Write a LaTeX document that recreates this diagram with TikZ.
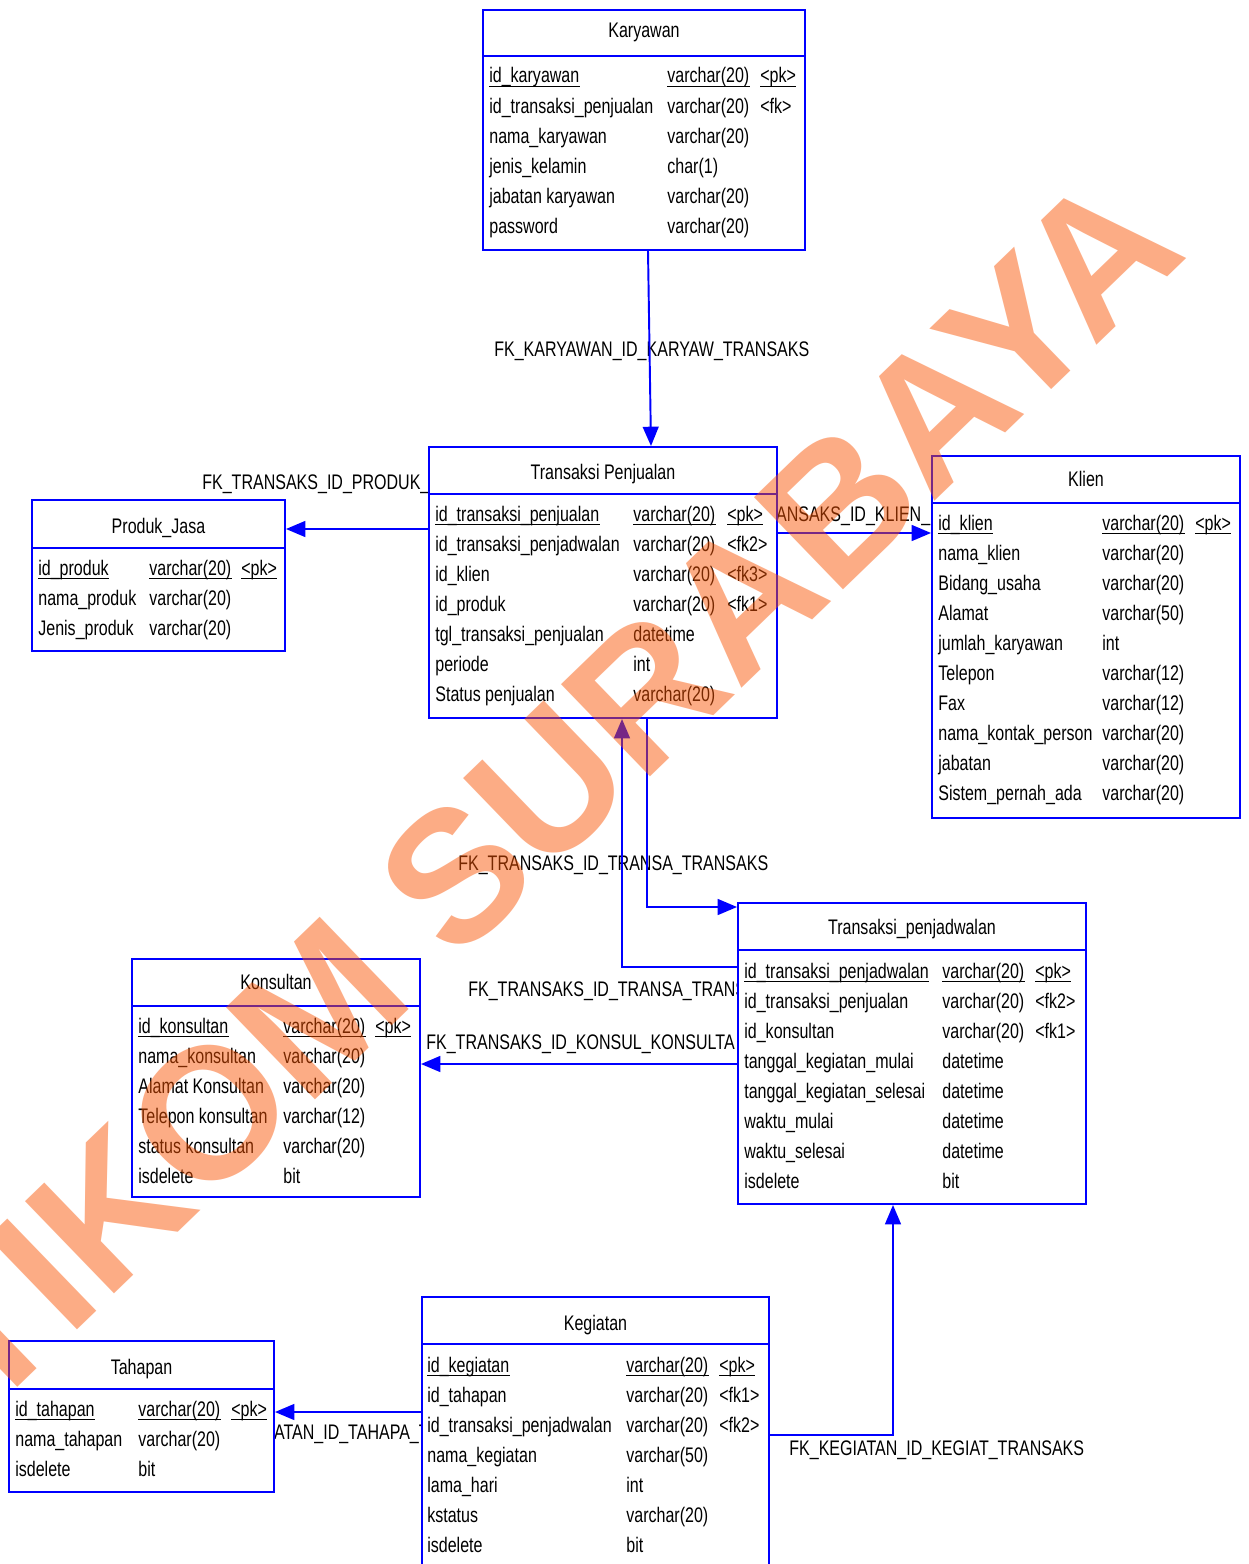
\documentclass[tikz,border=0pt]{standalone}
\usepackage{fontspec}
\setmainfont{Liberation Sans}[FakeStretch=0.76]
\newfontfamily\wmfont{Liberation Sans}
\usepackage{xcolor}
\usepackage{tikz}
\usetikzlibrary{arrows.meta}
\usetikzlibrary{fit}
\definecolor{erblue}{HTML}{0000FF}
\definecolor{wmcolor}{HTML}{FA5300}

\tikzset{
  entity/.style={draw=erblue, line width=1.1pt, fill=white, inner sep=0pt},
  divider/.style={draw=erblue, line width=1.1pt},
  title/.style={anchor=base, inner sep=0pt, font=\fontsize{12}{14}\selectfont},
  field/.style={anchor=base west, inner sep=0pt, font=\fontsize{12}{14}\selectfont},
  fklabel/.style={anchor=base west, inner sep=0pt, font=\fontsize{12}{14}\selectfont},
  pkline/.style={line width=0.6pt},
  fk/.style={draw=erblue, line width=1.1pt, -{Triangle[length=11pt,width=9pt]}},
  watermark/.style={anchor=base west, rotate=44, inner sep=0pt, text=wmcolor,
    text opacity=0.48, font=\wmfont\bfseries\fontsize{106}{106}\selectfont}
}

% box, divider and title of one table
\newcommand{\ertable}[6]{%
  \node[entity, fit={#2 #3}] (#1) {};
  \draw[divider] (#1.west |- 0,#4) -- (#1.east |- 0,#4);
  \node[title] (#1-title) at (#1.north |- 0,#5) {#6};
}
% columns of one table, first row is the key
\newcommand{\erfields}[6]{%
  \foreach \nm/\tp/\ky [count=\i] in {#6} {
    \node[field] (#1-n\i) at (#2,{#5+30.1*(\i-1)}) {\nm};
    \node[field] (#1-t\i) at (#3,{#5+30.1*(\i-1)}) {\tp};
    \node[field] (#1-k\i) at (#4,{#5+30.1*(\i-1)}) {\ky};
  }
  \foreach \c in {n,t,k}
    \draw[pkline] ([yshift=-2pt]#1-\c1.base west) -- ([yshift=-2pt]#1-\c1.base east);
}

\begin{document}
\begin{tikzpicture}[x=0.02cm,y=-0.02cm]
\useasboundingbox (0,0) rectangle (1248,1564);
\clip (0,0) rectangle (1248,1564);
\fill[white] (0,0) rectangle (1248,1564);

%% relation names
\node[fklabel] (lbl-karyawan) at (494,357) {FK\_KARYAWAN\_ID\_KARYAW\_TRANSAKS};
\node[fklabel] (lbl-produk) at (202,489) {FK\_TRANSAKS\_ID\_PRODUK\_PRODUK\_J};
\node[fklabel] (lbl-klien) at (725,521) {FK\_TRANSAKS\_ID\_KLIEN\_KLIEN};
\node[fklabel] (lbl-jadwal) at (458,870) {FK\_TRANSAKS\_ID\_TRANSA\_TRANSAKS};
\node[fklabel] (lbl-jual) at (468,996) {FK\_TRANSAKS\_ID\_TRANSA\_TRANSAKS};
\node[fklabel] (lbl-konsul) at (426,1049) {FK\_TRANSAKS\_ID\_KONSUL\_KONSULTA};
\node[fklabel] (lbl-tahapan) at (206,1439) {FK\_KEGIATAN\_ID\_TAHAPA\_TAHAPAN};
\node[fklabel] (lbl-kegiat) at (789,1455) {FK\_KEGIATAN\_ID\_KEGIAT\_TRANSAKS};

%% tables
\ertable{karyawan}{(483,10)}{(805,250)}{56}{38}{Karyawan}
\ertable{tpenjualan}{(429,447)}{(777,718)}{494}{479}{Transaksi Penjualan}
\ertable{klien}{(932,456)}{(1240,818)}{503}{486}{Klien}
\ertable{produk}{(32,500)}{(285,651)}{548}{533}{Produk\_Jasa}
\ertable{konsultan}{(132,959)}{(420,1197)}{1006}{989}{Konsultan}
\ertable{tpenjadwalan}{(738,903)}{(1086,1204)}{950}{934}{Transaksi\_penjadwalan}
\ertable{tahapan}{(9,1341)}{(274,1492)}{1389}{1374}{Tahapan}
\ertable{kegiatan}{(422,1297)}{(769,1590)}{1344}{1330}{Kegiatan}

\erfields{karyawan}{489}{667}{760}{83}{id\_karyawan/varchar(20)/<pk>,
  id\_transaksi\_penjualan/varchar(20)/<fk>, nama\_karyawan/varchar(20)/{},
  jenis\_kelamin/char(1)/{}, jabatan karyawan/varchar(20)/{}, password/varchar(20)/{}}
\erfields{tpenjualan}{435}{633}{727}{521}{id\_transaksi\_penjualan/varchar(20)/<pk>,
  id\_transaksi\_penjadwalan/varchar(20)/<fk2>, id\_klien/varchar(20)/<fk3>,
  id\_produk/varchar(20)/<fk1>, tgl\_transaksi\_penjualan/datetime/{},
  periode/int/{}, Status penjualan/varchar(20)/{}}
\erfields{klien}{938}{1102}{1195}{530}{id\_klien/varchar(20)/<pk>,
  nama\_klien/varchar(20)/{}, Bidang\_usaha/varchar(20)/{}, Alamat/varchar(50)/{},
  jumlah\_karyawan/int/{}, Telepon/varchar(12)/{}, Fax/varchar(12)/{},
  nama\_kontak\_person/varchar(20)/{}, jabatan/varchar(20)/{},
  Sistem\_pernah\_ada/varchar(20)/{}}
\erfields{produk}{38}{149}{241}{575}{id\_produk/varchar(20)/<pk>,
  nama\_produk/varchar(20)/{}, Jenis\_produk/varchar(20)/{}}
\erfields{konsultan}{138}{283}{375}{1033}{id\_konsultan/varchar(20)/<pk>,
  nama\_konsultan/varchar(20)/{}, Alamat Konsultan/varchar(20)/{},
  Telepon konsultan/varchar(12)/{}, status konsultan/varchar(20)/{}, isdelete/bit/{}}
\erfields{tpenjadwalan}{744}{942}{1035}{978}{id\_transaksi\_penjadwalan/varchar(20)/<pk>,
  id\_transaksi\_penjualan/varchar(20)/<fk2>, id\_konsultan/varchar(20)/<fk1>,
  tanggal\_kegiatan\_mulai/datetime/{}, tanggal\_kegiatan\_selesai/datetime/{},
  waktu\_mulai/datetime/{}, waktu\_selesai/datetime/{}, isdelete/bit/{}}
\erfields{tahapan}{15}{138}{231}{1416}{id\_tahapan/varchar(20)/<pk>,
  nama\_tahapan/varchar(20)/{}, isdelete/bit/{}}
\erfields{kegiatan}{427}{626}{719}{1372}{id\_kegiatan/varchar(20)/<pk>,
  id\_tahapan/varchar(20)/<fk1>, id\_transaksi\_penjadwalan/varchar(20)/<fk2>,
  nama\_kegiatan/varchar(50)/{}, lama\_hari/int/{}, kstatus/varchar(20)/{}, isdelete/bit/{}}

%% references
\draw[fk] (648,0 |- karyawan.south) -- (651,0 |- tpenjualan.north);
\draw[fk] (tpenjualan.west |- 0,529) -- (produk.east |- 0,529);
\draw[fk] (tpenjualan.east |- 0,533) -- (klien.west |- 0,533);
\draw[fk] (647,0 |- tpenjualan.south) |- (tpenjadwalan.west |- 0,907);
\draw[fk] (tpenjadwalan.west |- 0,967) -| (622,0 |- tpenjualan.south);
\draw[fk] (tpenjadwalan.west |- 0,1064) -- (konsultan.east |- 0,1064);
\draw[fk] (kegiatan.west |- 0,1412) -- (tahapan.east |- 0,1412);
\draw[fk] (kegiatan.east |- 0,1435) -| (893,0 |- tpenjadwalan.south);

%% watermark
\node[watermark] (wm) at (-103,1504) {STIKOM SURABAYA};
\end{tikzpicture}
\end{document}
